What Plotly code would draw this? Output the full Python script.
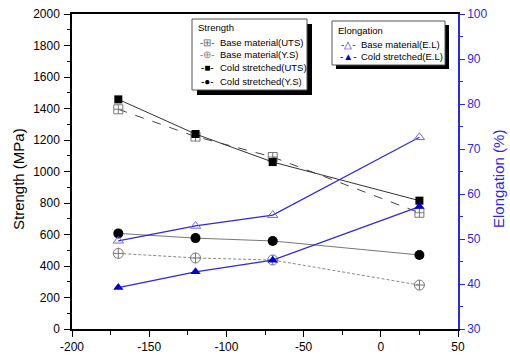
import plotly.graph_objects as go

temperature = [-170, -120, -70, 25]
base_uts = [1395, 1222, 1092, 738]
base_ys = [480, 451, 438, 279]
cold_uts = [1458, 1238, 1060, 815]
cold_ys = [607, 577, 559, 470]
base_el = [49.6, 52.9, 55.3, 72.6]
cold_el = [39.2, 42.7, 45.3, 57.2]

x_tickvals = [-200, -150, -100, -50, 0, 50]
x_ticktext = ["-200", "-150", "-100", "-50", "0", "50"]

strength_names = ["Base material(UTS)", "Base material(Y.S)", "Cold stretched(UTS)", "Cold stretched(Y.S)"]
elong_names = ["Base material(E.L)", "Cold stretched(E.L)"]

BLUE = "#2b2bd6"
FONT = "Arial"

fig = go.Figure()
fig.add_trace(go.Scatter(x=temperature, y=base_uts, name=strength_names[0], mode="lines+markers",
                         line=dict(color="#444444", width=1, dash="dash"),
                         marker=dict(symbol="square-cross-open", size=9, color="#777777", line=dict(width=1))))
fig.add_trace(go.Scatter(x=temperature, y=base_ys, name=strength_names[1], mode="lines+markers",
                         line=dict(color="#888888", width=1, dash="3px,2px"),
                         marker=dict(symbol="circle-cross-open", size=10, color="#777777", line=dict(width=1))))
fig.add_trace(go.Scatter(x=temperature, y=cold_uts, name=strength_names[2], mode="lines+markers",
                         line=dict(color="#333333", width=1),
                         marker=dict(symbol="square", size=8, color="#000000")))
fig.add_trace(go.Scatter(x=temperature, y=cold_ys, name=strength_names[3], mode="lines+markers",
                         line=dict(color="#777777", width=1),
                         marker=dict(symbol="circle", size=10, color="#000000")))
fig.add_trace(go.Scatter(x=temperature, y=base_el, name=elong_names[0], mode="lines+markers",
                         yaxis="y2",
                         line=dict(color=BLUE, width=1.2),
                         marker=dict(symbol="triangle-up-open", size=9, color="#6a6af0", line=dict(width=1))))
fig.add_trace(go.Scatter(x=temperature, y=cold_el, name=elong_names[1], mode="lines+markers",
                         yaxis="y2",
                         line=dict(color=BLUE, width=1.2),
                         marker=dict(symbol="triangle-up", size=9, color="#0000cc")))

# plot area in pixels: x 72..458, y 14..329
L, R, T, B = 72, 458, 14, 329
W, H = R - L, B - T

def px_x(p):
    return (p - L) / W

def px_y(p):
    return (B - p) / H

shapes = []
annotations = []

def legend_box(x0, y0, x1, y1, sh=5):
    # drop shadow (right and bottom) drawn as thick lines
    shapes.append(dict(type="line", xref="paper", yref="paper",
                       x0=px_x(x1 + sh / 2), x1=px_x(x1 + sh / 2), y0=px_y(y0 + sh), y1=px_y(y1 + sh),
                       line=dict(width=sh, color="black"), layer="above"))
    shapes.append(dict(type="line", xref="paper", yref="paper",
                       x0=px_x(x0 + sh), x1=px_x(x1 + sh), y0=px_y(y1 + sh / 2), y1=px_y(y1 + sh / 2),
                       line=dict(width=sh, color="black"), layer="above"))
    shapes.append(dict(type="rect", xref="paper", yref="paper",
                       x0=px_x(x0), x1=px_x(x1), y0=px_y(y1), y1=px_y(y0),
                       fillcolor="white", line=dict(width=1, color="#555555"), layer="above"))

def text_at(px, py, txt, color="black", anchor="left", size=9.5, angle=0, family=FONT):
    annotations.append(dict(xref="paper", yref="paper", x=px_x(px), y=px_y(py), text=txt,
                            showarrow=False, xanchor=anchor, yanchor="middle", textangle=angle,
                            font=dict(family=family, size=size, color=color)))

# Strength legend
legend_box(192, 19, 307, 90)
text_at(196, 28, "Strength")
sym1 = [("-⊞-", "#666666"), ("-⊕-", "#888888"), ("-■-", "#000000"), ("-●-", "#000000")]
rows1 = [42, 55, 68, 81]
for (s, c), yy, nm in zip(sym1, rows1, strength_names):
    text_at(207, yy, s, color=c, anchor="center", size=10)
    text_at(218, yy, nm)

# Elongation legend
legend_box(332, 21, 445, 65, sh=4)
text_at(336, 30, "Elongation")
sym2 = [("-△-", BLUE), ("-▲-", "#0000cc")]
rows2 = [44, 57]
for (s, c), yy, nm in zip(sym2, rows2, elong_names):
    text_at(348, yy, s, color=c, anchor="center", size=10)
    text_at(359, yy, nm)

# axis titles
text_at(18, 179, "Strength (MPa)", anchor="center", size=15, angle=-90)
text_at(498, 179, "Elongation (%)", color=BLUE, anchor="center", size=15, angle=-90)

fig.update_layout(
    width=510, height=355,
    margin=dict(l=L, r=510 - R, t=T, b=355 - B, autoexpand=False),
    paper_bgcolor="white", plot_bgcolor="white",
    font=dict(family=FONT, size=12, color="black"),
    showlegend=False,
    shapes=shapes, annotations=annotations,
    xaxis=dict(range=[-200, 50], tickvals=x_tickvals, ticktext=x_ticktext,
               showgrid=False, zeroline=False, automargin=False,
               showline=True, linecolor="black", linewidth=1.5, mirror=True,
               ticks="outside", ticklen=6, tickcolor="black",
               minor=dict(dtick=25, ticks="outside", ticklen=4, tickcolor="black"),
               tickfont=dict(size=12)),
    yaxis=dict(range=[0, 2000], dtick=200, showgrid=False, zeroline=False, automargin=False,
               showline=True, linecolor="black", linewidth=1.5,
               ticks="outside", ticklen=6, tickcolor="black", ticklabelstandoff=2,
               minor=dict(dtick=100, ticks="outside", ticklen=3, tickcolor="black"),
               tickfont=dict(size=12)),
    yaxis2=dict(range=[30, 100], dtick=10, overlaying="y", side="right",
                showgrid=False, zeroline=False, automargin=False,
                showline=True, linecolor=BLUE, linewidth=1.5,
                ticks="outside", ticklen=5, tickcolor=BLUE,
                minor=dict(dtick=5, ticks="outside", ticklen=3, tickcolor=BLUE),
                tickfont=dict(size=12, color=BLUE)),
)

fig.write_html("out.html")
